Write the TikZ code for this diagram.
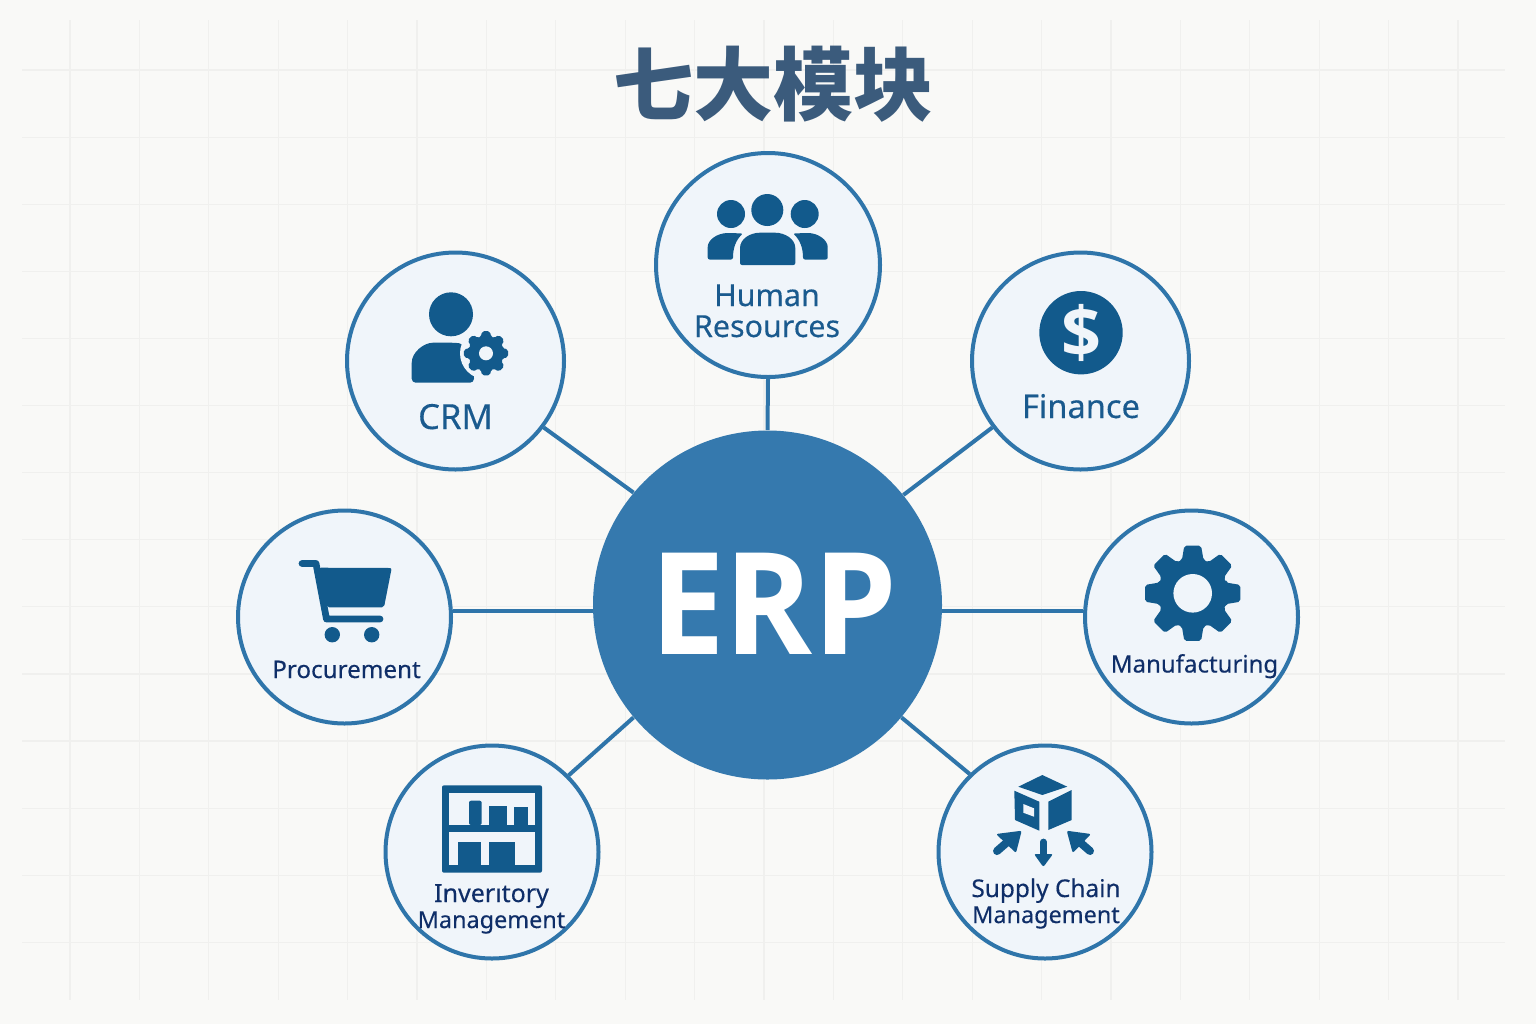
\documentclass[tikz,border=0pt]{standalone}
\usepackage{fontspec}
\usepackage{color}
\setmainfont{Noto Sans}[FakeBold=0.25]
\newfontfamily\TitleFont{Noto Sans CJK SC}
\newfontfamily\HeavyFont{Open Sans}

\definecolor{PaperColor}{HTML}{F9F9F7}
\definecolor{GridColor}{HTML}{F0F0EE}
\definecolor{RingColor}{HTML}{2F75AA}
\definecolor{HubColor}{HTML}{3579AE}
\definecolor{DiscColor}{HTML}{F0F5FA}
\definecolor{IconColor}{HTML}{125A8C}
\definecolor{TitleColor}{HTML}{3B5B7C}
\definecolor{BlueText}{HTML}{1A5A8E}
\definecolor{NavyText}{HTML}{0F2E68}

% #1 x, #2 y, #3 outer radius, #4 root radius, #5 hole radius
\newcommand{\GearIcon}[5]{
  \begin{scope}[shift={(#1,#2)}]
    \fill[IconStyle, rounded corners=1pt] (-18:#4) \foreach \a in {0,45,...,315} {
      -- (\a-18:#4) -- (\a-10:#3) -- (\a+10:#3) -- (\a+18:#4)
    } -- cycle;
    \fill[DiscColor] (0,0) circle (#5);
  \end{scope}
}

\begin{document}
\begin{tikzpicture}[x=0.5pt,y=-0.5pt]
  \tikzset{ModuleStyle/.style = {
    shape         = circle,
    draw          = RingColor,
    fill          = DiscColor,
    line width    = 2pt,
    inner sep     = 0pt
    }
  }
  \tikzset{HubStyle/.style = {
    shape         = circle,
    fill          = HubColor,
    inner sep     = 0pt,
    minimum size  = 174.5pt
    }
  }
  \tikzset{EdgeStyle/.style = {
    draw          = RingColor,
    line width    = 2pt
    }
  }
  \tikzset{LabelStyle/.style = {
    anchor        = base,
    align         = center,
    inner sep     = 0pt
    }
  }
  \tikzset{IconStyle/.style = {
    fill          = IconColor
    }
  }
  \tikzset{IconLineStyle/.style = {
    draw          = IconColor,
    line join     = round,
    line cap      = round
    }
  }

  % paper and faint grid
  \fill[PaperColor] (0,0) rectangle (1536,1024);
  \useasboundingbox (0,0) rectangle (1536,1024);
  \foreach \k in {0,...,20}
    \draw[GridColor, line width=0.6pt] ({70+69.4*\k},20) -- ({70+69.4*\k},1000);
  \foreach \k in {0,...,13}
    \draw[GridColor, line width=0.6pt] (22,{70+67.1*\k}) -- (1505,{70+67.1*\k});

  \node[inner sep=0pt, text=TitleColor, font=\fontsize{40}{40}\selectfont\TitleFont\bfseries](Title) at (773, 84) {七大模块};

  \node[HubStyle](Hub) at (767.5, 605) {};
  \node[ModuleStyle, minimum size=112pt](HR) at (768, 265) {};
  \node[ModuleStyle, minimum size=108.5pt](CRM) at (455.5, 361) {};
  \node[ModuleStyle, minimum size=108.5pt](Finance) at (1080.5, 361) {};
  \node[ModuleStyle, minimum size=106.5pt](Procurement) at (344.5, 617) {};
  \node[ModuleStyle, minimum size=106.5pt](Manufacturing) at (1191.5, 617) {};
  \node[ModuleStyle, minimum size=106.5pt](Inventory) at (492, 852) {};
  \node[ModuleStyle, minimum size=106.5pt](Supply) at (1045, 852) {};

  \draw[EdgeStyle](Hub.90) -- (HR.270);
  \draw[EdgeStyle](Hub.140.8) -- (CRM.-37);
  \draw[EdgeStyle](Hub.39.2) -- (Finance.217);
  \draw[EdgeStyle](Procurement.3.4) -- (Procurement.3.4 -| Hub.west);
  \draw[EdgeStyle](Manufacturing.177.9) -- (Manufacturing.177.9 -| Hub.east);
  \draw[EdgeStyle](Hub.220.6) -- (Inventory.45.4);
  \draw[EdgeStyle](Hub.-40.6) -- (Supply.134.6);

  \node[text=white, inner sep=0pt, font=\fontsize{71}{71}\selectfont\HeavyFont\bfseries](HubLabel) at (773.5, 604) {\scalebox{0.94}[1]{ERP}};
  \node[LabelStyle, text=BlueText, font=\fontsize{15.2}{15.5}\selectfont](HRLabel) at (767, 337) {Human\\Resources};
  \node[LabelStyle, text=BlueText, font=\fontsize{17.3}{17.3}\selectfont](CRMLabel) at (455.5, 429) {CRM};
  \node[LabelStyle, text=BlueText, font=\fontsize{16.3}{16.3}\selectfont](FinanceLabel) at (1081, 418) {Finance};
  \node[LabelStyle, text=NavyText, font=\fontsize{12.1}{12.1}\selectfont](ProcurementLabel) at (346.5, 678) {Procurement};
  \node[LabelStyle, text=NavyText, font=\fontsize{12}{12}\selectfont](ManufacturingLabel) at (1194.5, 672.5) {Manufacturing};
  \node[LabelStyle, text=NavyText, font=\fontsize{11.7}{13}\selectfont](InventoryLabel) at (491.5, 928) {{\fontsize{12.5}{13}\selectfont Inverıtory}\\Management};
  \node[LabelStyle, text=NavyText, font=\fontsize{11.7}{13}\selectfont](SupplyLabel) at (1046, 923) {{\fontsize{12.2}{13}\selectfont Supply Chain}\\Management};

  % human resources icon
  \fill[IconStyle] (767.3, 210) circle (16);
  \fill[IconStyle] (731, 214) circle (14);
  \fill[IconStyle] (804.7, 214) circle (14);
  \fill[IconStyle, rounded corners=1pt] (740, 265) -- (740, 250) .. controls (740, 239) and (750, 232.7) .. (762, 232.7) -- (773, 232.7) .. controls (785, 232.7) and (795.3, 239) .. (795.3, 250) -- (795.3, 265) -- cycle;
  \fill[IconStyle, rounded corners=1pt] (707.7, 259.5) -- (707.7, 249) .. controls (707.7, 240) and (717, 233) .. (730, 233) -- (743, 233.5) .. controls (736, 240) and (733, 248) .. (733, 259.5) -- cycle;
  \fill[IconStyle, rounded corners=1pt] (827.7, 259.5) -- (827.7, 249) .. controls (827.7, 240) and (818, 233) .. (806, 233) -- (793, 233.5) .. controls (800, 240) and (803, 248) .. (803, 259.5) -- cycle;

  % crm icon
  \fill[IconStyle] (451, 314.3) circle (22);
  \fill[IconStyle, rounded corners=2pt] (411.7, 382.7) -- (411.7, 367) .. controls (411.7, 352) and (424, 342.7) .. (437, 342.7) -- (455, 342.7) .. controls (465, 344) and (474, 360) .. (474, 382.7) -- cycle;
  \fill[DiscColor] (486, 353.3) circle (26);
  \GearIcon{486}{353.3}{22.5}{17}{7}

  % finance icon
  \fill[IconStyle] (1081, 332.7) circle (41.7);
  \node[inner sep=0pt, text=DiscColor, font=\fontsize{35}{35}\selectfont\HeavyFont\bfseries](Dollar) at (1081, 332.7) {\$};

  % procurement icon
  \draw[IconLineStyle, line width=3.4pt] (302, 563.5) -- (316, 563.5) -- (326.5, 619) -- (380, 619);
  \fill[IconStyle, rounded corners=1pt] (319.3, 567.7) -- (391.7, 568) -- (384, 607.3) -- (327, 607.3) -- cycle;
  \fill[IconStyle] (332.3, 634.7) circle (7.7);
  \fill[IconStyle] (371.7, 634.7) circle (7.7);

  % manufacturing icon
  \GearIcon{1192.7}{593.3}{48.3}{35}{19.3}

  % inventory icon
  \fill[IconStyle, rounded corners=1pt] (442, 785.3) rectangle (542, 872.7);
  \fill[DiscColor] (449, 792.7) rectangle (535, 825);
  \fill[DiscColor] (449, 832.3) rectangle (535, 865.3);
  \fill[IconStyle, rounded corners=1pt] (469, 825) -- (469, 800.7) -- (481.7, 800.7) -- (481.7, 825) -- cycle;
  \fill[IconStyle] (489, 806) rectangle (507, 825);
  \fill[IconStyle] (514.3, 806.7) rectangle (528, 825);
  \fill[IconStyle] (458, 841.7) rectangle (481.3, 865.3);
  \fill[IconStyle] (489, 841.7) rectangle (515, 865.3);

  % supply chain icon
  \fill[IconStyle] (1042.3, 775) -- (1067.3, 786.7) -- (1042.3, 795) -- (1018.3, 786.7) -- cycle;
  \fill[IconStyle] (1014.3, 790.7) -- (1039.3, 801.7) -- (1039.3, 830.7) -- (1015, 820) -- cycle;
  \fill[DiscColor] (1023.3, 804) -- (1034, 808.3) -- (1034, 816.7) -- (1023.3, 812.7) -- cycle;
  \fill[IconStyle] (1048.3, 801.7) -- (1071.7, 790) -- (1071.7, 820) -- (1048.3, 830) -- cycle;
  \draw[IconLineStyle, line width=4pt] (997, 851) -- (1012, 838);
  \fill[IconStyle, rounded corners=1pt] (1021.7, 830.7) -- (996, 834) -- (1016, 853) -- cycle;
  \draw[IconLineStyle, line width=4pt] (1090, 851) -- (1075, 838);
  \fill[IconStyle, rounded corners=1pt] (1066.7, 830.7) -- (1091, 834) -- (1072.7, 853) -- cycle;
  \draw[IconLineStyle, line width=3.4pt] (1043.3, 842) -- (1043.3, 858);
  \fill[IconStyle, rounded corners=1pt] (1034, 854) -- (1053, 854) -- (1043.3, 867) -- cycle;

\end{tikzpicture}
\end{document}
